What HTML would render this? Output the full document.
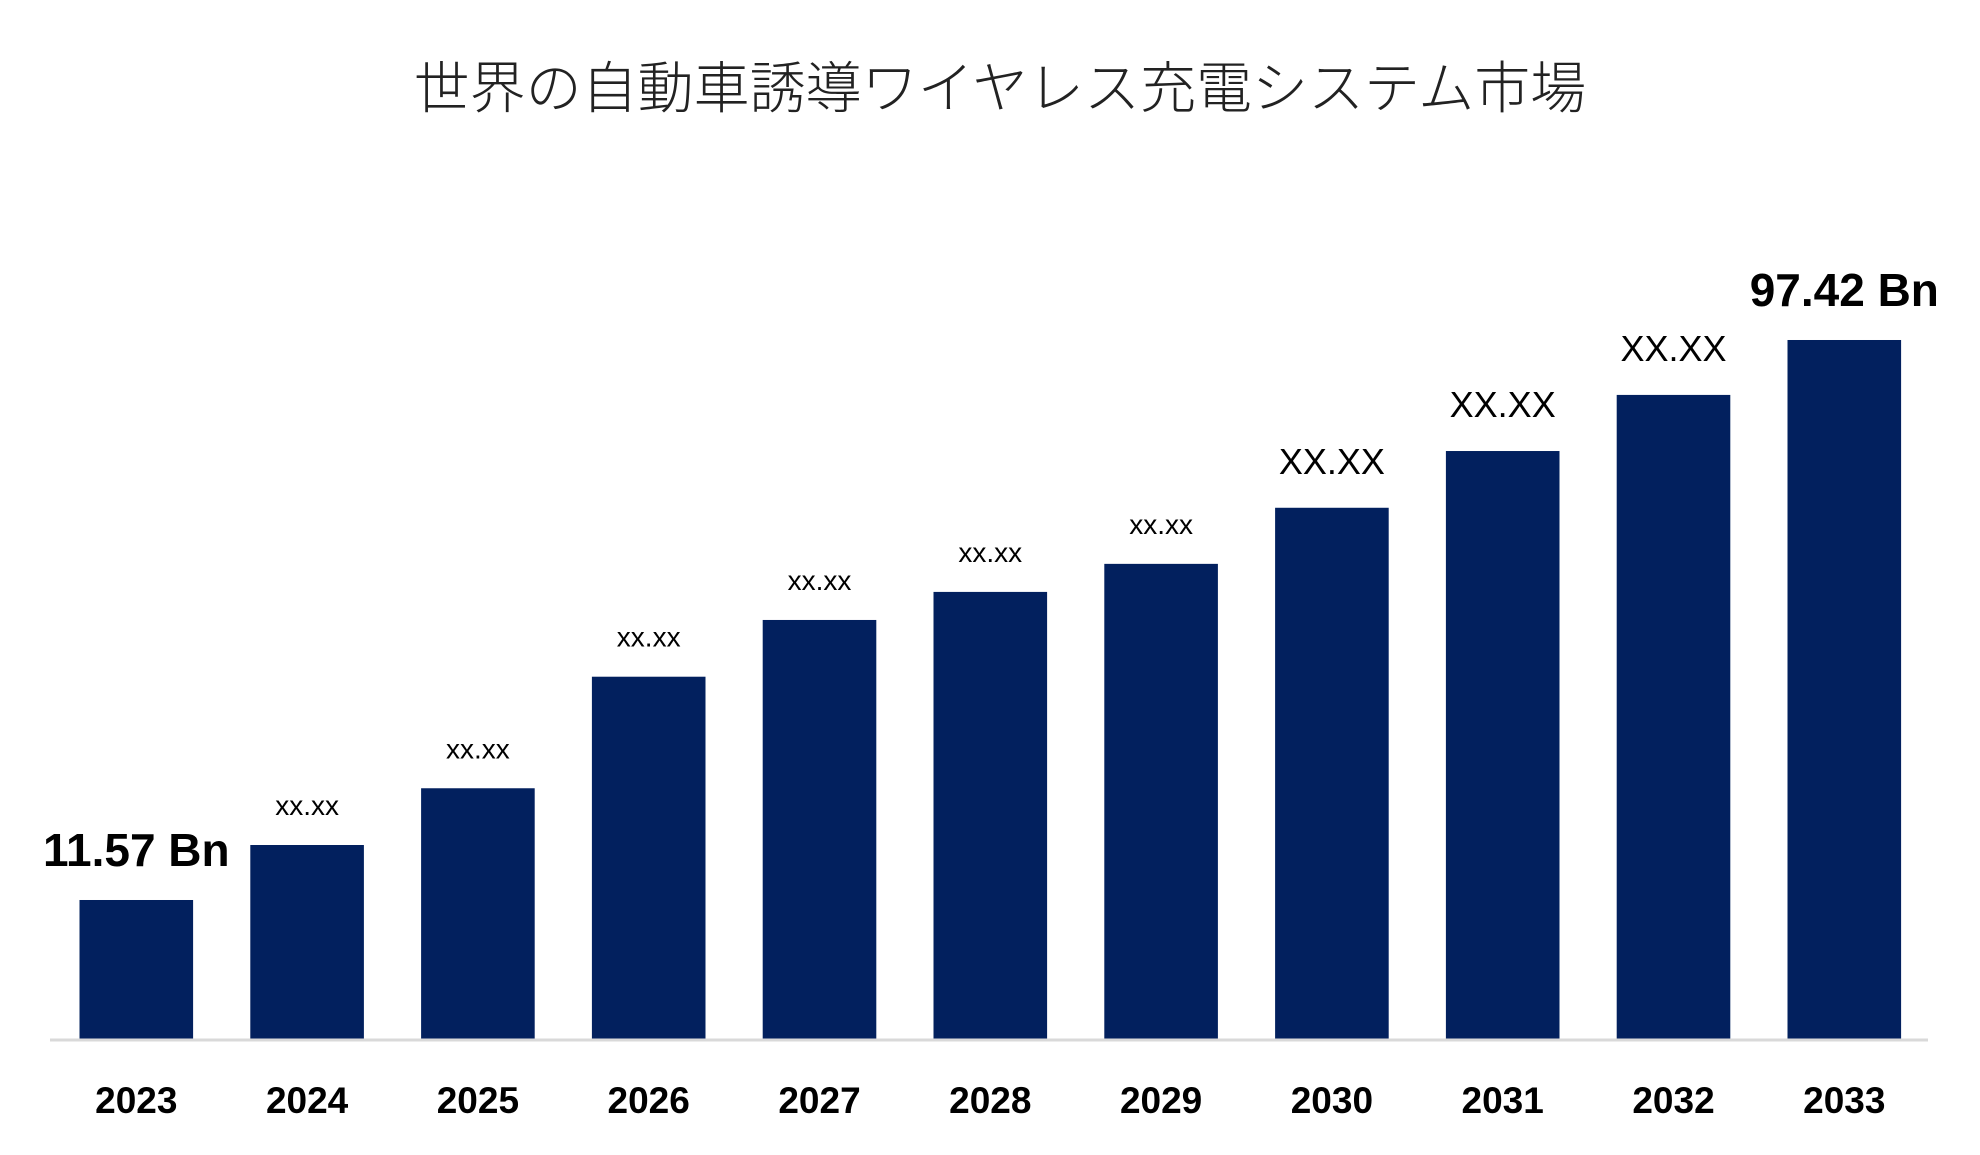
<!DOCTYPE html>
<html><head><meta charset="utf-8"><style>
html,body{margin:0;padding:0;background:#fff;}
svg{display:block;font-family:"Liberation Sans","Noto Sans CJK JP",sans-serif;}
</style></head><body>
<svg id="chart" width="1980" height="1155" viewBox="0 0 1980 1155">
<text x="1000" y="108" text-anchor="middle" font-size="56" font-weight="300" fill="#222" font-family="'Noto Sans CJK JP',sans-serif">世界の自動車誘導ワイヤレス充電システム市場</text>
<g id="bars"></g>
<line x1="50" y1="1040" x2="1928" y2="1040" stroke="#d9d9d9" stroke-width="3"/>
</svg>
<script>
const categories = ["2023","2024","2025","2026","2027","2028","2029","2030","2031","2032","2033"];
const values = [11.57,20.0,28.7,45.8,54.5,58.8,63.1,71.7,80.4,89.0,97.42];
const valueLabels = ["11.57 Bn","xx.xx","xx.xx","xx.xx","xx.xx","xx.xx","xx.xx","XX.XX","XX.XX","XX.XX","97.42 Bn"];
const ns="http://www.w3.org/2000/svg";
const g=document.getElementById('bars');
const baseY=1039, yMin=-9.74, pxPer=6.523;
function y(v){return baseY-(v-yMin)*pxPer;}
function xStart(i){return 79.5+i*170.8;}
const bw=113.6;
categories.forEach((c,i)=>{
  const top=y(values[i]);
  const r=document.createElementNS(ns,'rect');
  
  
  r.setAttribute('x',xStart(i));r.setAttribute('y',top);
  r.setAttribute('width',bw);r.setAttribute('height',baseY-top);
  r.setAttribute('fill','#02205e');
  g.appendChild(r);
  const cx=xStart(i)+bw/2;
  const t=document.createElementNS(ns,'text');
  
  
  t.setAttribute('x',cx);t.setAttribute('y',1113);
  t.setAttribute('text-anchor','middle');t.setAttribute('font-size','37');t.setAttribute('font-weight','bold');
  t.textContent=c;g.appendChild(t);
  const l=document.createElementNS(ns,'text');
  
  
  const big=(i===0||i===categories.length-1);
  const mid=(i>=7&&!big);
  l.setAttribute('x',cx);
  l.setAttribute('y',top-(big?34:(mid?34:30)));
  l.setAttribute('text-anchor','middle');
  l.setAttribute('font-size',big?'46':(mid?'36':'28'));
  if(big) l.setAttribute('font-weight','bold');
  l.textContent=valueLabels[i];g.appendChild(l);
});
</script>
</body></html>
